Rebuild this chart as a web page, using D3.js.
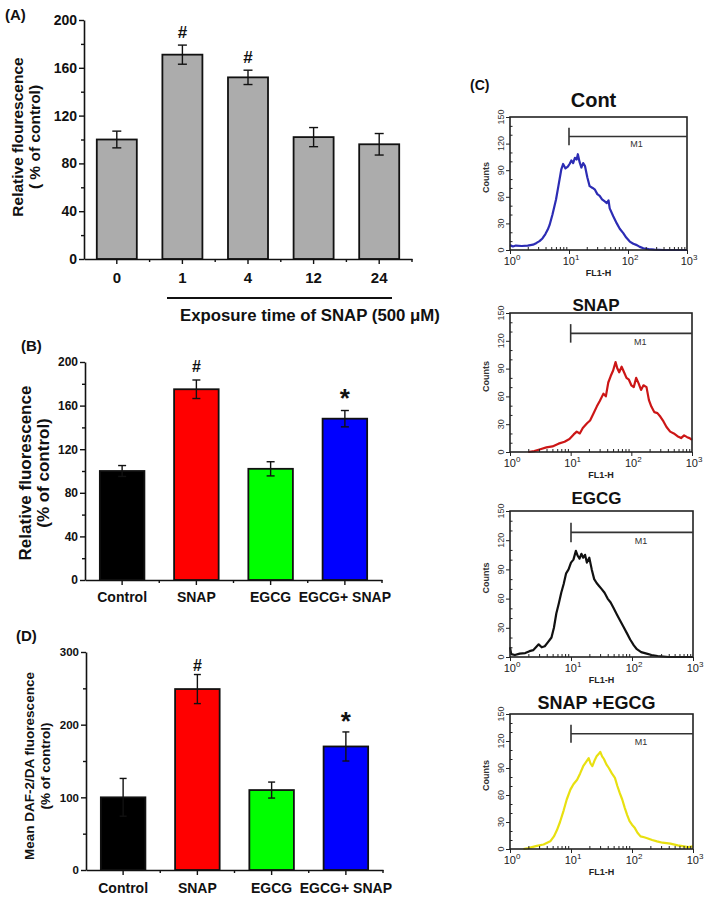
<!DOCTYPE html>
<html><head><meta charset="utf-8">
<script src="https://cdn.jsdelivr.net/npm/d3@7"></script>
<style>
body{margin:0;background:#fff}
svg{display:block}
text{font-family:Arial,"Liberation Sans",sans-serif;}
</style>
</head><body>
<svg id="fig" width="704" height="898"></svg>
<script>
// ---------- DATA ----------
const panelACategories = ["0", "1", "4", "12", "24"];
const panelAValues = [100, 171, 152, 102, 96];
const panelAErrors = [7, 8, 6, 8, 9];
const panelAMarks = ["", "#", "#", "", ""];
const panelAYTicks = [0, 40, 80, 120, 160, 200];
const panelAYMinor = [20, 60, 100, 140, 180];

const panelBCategories = ["Control", "SNAP", "EGCG", "EGCG+ SNAP"];
const panelBValues = [100, 175, 102, 148];
const panelBErrors = [5, 8.5, 6.5, 7.5];
const panelBMarks = ["", "#", "", "*"];
const panelBYTicks = [0, 40, 80, 120, 160, 200];
const panelBYMinor = [20, 60, 100, 140, 180];

const panelDCategories = ["Control", "SNAP", "EGCG", "EGCG+ SNAP"];
const panelDValues = [100, 249, 110, 170];
const panelDErrors = [26, 20, 11, 20];
const panelDMarks = ["", "#", "", "*"];
const panelDYTicks = [0, 100, 200, 300];
const panelDYMinor = [50, 150, 250];

const histTitles = ["Cont", "SNAP", "EGCG", "SNAP +EGCG"];
const histYTicks = [0, 30, 60, 90, 120, 150];
const histXTicks = [1, 10, 100, 1000];
const histXExponents = ["0", "1", "2", "3"];
const gateStart = 10, gateLevel = 128;
// [log10(FL1-H), counts]
const contCurve = [[0,5.5],[0.05,4],[0.1,5],[0.2,4.5],[0.3,5],[0.39,6],[0.45,8],[0.5,10],[0.55,13],[0.6,18],[0.64,23],[0.67,28],[0.72,40],[0.78,57],[0.82,72],[0.87,91],[0.9,97],[0.94,92],[0.98,94],[1.01,97],[1.04,101],[1.07,98],[1.1,104],[1.13,102],[1.15,108],[1.18,99],[1.21,93],[1.24,98],[1.27,95],[1.31,82],[1.35,72],[1.4,70],[1.44,68],[1.48,63],[1.52,61],[1.56,57],[1.6,55],[1.64,53],[1.67,56],[1.69,47],[1.75,38],[1.81,30],[1.86,24],[1.92,19],[1.97,14],[2.03,9.5],[2.09,7],[2.15,5.5],[2.2,3.5],[2.26,2],[2.35,1],[2.45,0.5],[2.6,0],[3,0]];
const snapCurve = [[0.3,0],[0.4,1],[0.5,3],[0.6,5],[0.7,6],[0.8,9],[0.9,11],[0.98,14],[1.05,19],[1.1,22],[1.15,20],[1.2,26],[1.27,31],[1.32,34],[1.38,42],[1.43,49],[1.48,55],[1.54,63],[1.58,60],[1.62,75],[1.66,82],[1.7,88],[1.74,97],[1.77,90],[1.8,86],[1.84,92],[1.88,86],[1.92,80],[1.96,78],[2.0,72],[2.04,70],[2.08,80],[2.12,74],[2.16,67],[2.2,72],[2.25,70],[2.29,56],[2.33,49],[2.38,43],[2.43,42],[2.48,38],[2.53,33],[2.58,27],[2.64,22],[2.7,20],[2.76,17],[2.82,15],[2.87,18],[2.92,16],[2.96,15],[3,13]];
const egcgCurve = [[0,10],[0.02,3],[0.08,2],[0.16,3.5],[0.25,4],[0.32,6],[0.38,7],[0.44,11],[0.47,13],[0.52,10],[0.57,11],[0.62,15],[0.68,20],[0.72,30],[0.76,45],[0.8,55],[0.84,66],[0.88,75],[0.92,86],[0.96,90],[1.0,97],[1.04,100],[1.08,109],[1.11,104],[1.14,101],[1.17,106],[1.2,102],[1.23,105],[1.26,97],[1.3,102],[1.34,90],[1.38,80],[1.42,76],[1.46,73],[1.5,70],[1.55,66],[1.6,60],[1.65,56],[1.7,50],[1.75,44],[1.8,38],[1.86,31],[1.92,24],[1.97,18],[2.03,12],[2.08,8],[2.15,5],[2.24,3.5],[2.32,2],[2.42,1],[2.6,0],[3,0]];
const snapEgcgCurve = [[0.22,0],[0.3,1],[0.44,3.5],[0.55,5],[0.66,8.5],[0.72,14],[0.77,21],[0.82,30],[0.88,43],[0.93,55],[0.99,66],[1.04,72],[1.1,77],[1.15,84],[1.2,92],[1.24,96],[1.29,101],[1.32,95],[1.35,92],[1.39,99],[1.42,103],[1.46,106],[1.48,108],[1.51,103],[1.54,100],[1.58,94],[1.62,90],[1.67,84],[1.72,79],[1.76,70],[1.8,62],[1.84,55],[1.88,46],[1.92,38],[1.96,31],[2.0,27],[2.04,24],[2.09,18],[2.14,14],[2.2,13],[2.25,12],[2.33,10],[2.41,8.5],[2.5,7],[2.63,6],[2.75,4],[2.85,3],[2.92,2],[3,3]];

// ---------- DRAWING ----------
const svg = d3.select("#fig");
svg.append("rect").attr("width",704).attr("height",898).attr("fill","#fff");

function rotLabel(g, cx, cy, txt, size) {
  g.append("text").attr("transform",`translate(${cx},${cy}) rotate(-90)`)
    .attr("text-anchor","middle").attr("dominant-baseline","central")
    .attr("font-weight","bold").attr("font-size",size).attr("fill","#111").text(txt);
}

function barPanel(o) {
  const g = svg.append("g");
  const x = d3.scaleBand().domain(o.cats).range([o.x0, o.x1]).paddingInner(o.pad).paddingOuter(o.pad/2);
  const y = d3.scaleLinear().domain([0, o.max]).range([o.y0, o.yTop]);
  const data = o.cats.map((c,i)=>({c, v:o.vals[i], e:o.errs[i], m:o.marks[i], col:o.colors[i]}));
  g.selectAll("rect.bar").data(data).join("rect").attr("class","bar")
    .attr("x", d=>x(d.c)).attr("width", x.bandwidth())
    .attr("y", d=>y(d.v)).attr("height", d=>y(0)-y(d.v))
    .attr("fill", d=>d.col).attr("stroke","#111").attr("stroke-width",1.8);
  const cap = o.cap;
  data.forEach(d=>{
    const cx = x(d.c)+x.bandwidth()/2;
    const eg = g.append("g").attr("stroke","#111").attr("stroke-width",1.4);
    eg.append("line").attr("x1",cx).attr("x2",cx).attr("y1",y(d.v-d.e)).attr("y2",y(d.v+d.e));
    eg.append("line").attr("x1",cx-cap/2).attr("x2",cx+cap/2).attr("y1",y(d.v+d.e)).attr("y2",y(d.v+d.e));
    eg.append("line").attr("x1",cx-cap/2).attr("x2",cx+cap/2).attr("y1",y(d.v-d.e)).attr("y2",y(d.v-d.e));
    if (d.m) {
      const star = d.m === "*";
      g.append("text").attr("x",cx).attr("y", y(d.v+d.e) - (star?o.starGap:o.hashGap))
        .attr("text-anchor","middle").attr("font-weight","bold")
        .attr("font-size", star?o.starSize:o.hashSize).attr("fill","#111").text(d.m);
    }
  });
  const ya = g.append("g").attr("transform",`translate(${o.x0},0)`)
    .call(d3.axisLeft(y).tickValues(o.yTicks).tickSize(5).tickSizeOuter(0).tickPadding(2));
  g.append("g").attr("transform",`translate(${o.x0},0)`)
    .call(d3.axisLeft(y).tickValues(o.yMinor).tickSize(3).tickFormat("")).select(".domain").remove();
  ya.selectAll("text").attr("font-size",o.yFont).attr("font-weight","bold").attr("fill","#111").attr("font-family","Arial, Liberation Sans, sans-serif");
  const xa = g.append("g").attr("transform",`translate(0,${o.y0})`)
    .call(d3.axisBottom(x).tickSize(5).tickSizeOuter(0).tickPadding(o.xPad));
  xa.selectAll("text").attr("font-size",o.xFont).attr("font-weight","bold").attr("fill","#111").attr("font-family","Arial, Liberation Sans, sans-serif");
  const bounds = o.cats.slice(1).map(c=>x(c)-x.step()*o.pad/2).concat([o.x1]);
  g.selectAll("line.minor").data(bounds).join("line").attr("class","minor")
    .attr("x1",d=>d).attr("x2",d=>d).attr("y1",o.y0).attr("y2",o.y0+3)
    .attr("stroke","#111").attr("stroke-width",1.4);
  g.selectAll(".domain").attr("stroke","#111").attr("stroke-width",1.6);
  g.selectAll(".tick line").attr("stroke","#111").attr("stroke-width",1.4);
  rotLabel(g, o.lab1x, o.labY, o.lab1, o.labSize);
  rotLabel(g, o.lab2x, o.labY, o.lab2, o.labSize);
  g.append("text").attr("x",o.letterX).attr("y",o.letterY).attr("font-weight","bold")
    .attr("font-size",15).attr("fill","#111").text(o.letter);
  return {x, y, g};
}

// Panel A
const gray = panelACategories.map(()=>"#acacac");
barPanel({cats:panelACategories, vals:panelAValues, errs:panelAErrors, marks:panelAMarks, colors:gray,
  x0:84, x1:412, y0:259, yTop:20, max:200, pad:0.39, cap:9,
  yTicks:panelAYTicks, yMinor:panelAYMinor, yFont:14, xFont:15, xPad:8,
  hashGap:7, starGap:3, hashSize:17, starSize:26,
  lab1:"Relative flourescence", lab2:"( % of control)", lab1x:17, lab2x:34, labY:137, labSize:15.5,
  letter:"(A)", letterX:5, letterY:20});

svg.append("line").attr("x1",167).attr("x2",392).attr("y1",298).attr("y2",298).attr("stroke","#111").attr("stroke-width",2);
svg.append("text").attr("x",180).attr("y",321).attr("font-weight","bold").attr("font-size",16.8).attr("fill","#111")
  .text("Exposure time of SNAP (500 \u03bcM)");

// Panel B
const barColors = ["#000000", "#ff0000", "#00ff00", "#0000ff"];
barPanel({cats:panelBCategories, vals:panelBValues, errs:panelBErrors, marks:panelBMarks, colors:barColors,
  x0:85, x1:382, y0:580, yTop:362, max:200, pad:0.40, cap:8,
  yTicks:panelBYTicks, yMinor:panelBYMinor, yFont:12, xFont:14, xPad:7,
  hashGap:8, starGap:4, hashSize:16, starSize:26,
  lab1:"Relative fluorescence", lab2:"(% of control)", lab1x:25, lab2x:43, labY:473, labSize:17,
  letter:"(B)", letterX:21, letterY:351});

// Panel D
barPanel({cats:panelDCategories, vals:panelDValues, errs:panelDErrors, marks:panelDMarks, colors:barColors,
  x0:86, x1:383, y0:870, yTop:652, max:300, pad:0.40, cap:7,
  yTicks:panelDYTicks, yMinor:panelDYMinor, yFont:11.5, xFont:14, xPad:8,
  hashGap:4, starGap:2, hashSize:16, starSize:26,
  lab1:"Mean DAF-2/DA fluorescence", lab2:"(% of control)", lab1x:29, lab2x:45, labY:766, labSize:13.5,
  letter:"(D)", letterX:16, letterY:641});

// Panel C
svg.append("text").attr("x",470).attr("y",90).attr("font-weight","bold").attr("font-size",14).attr("fill","#111").text("(C)");

function histPanel(o) {
  const g = svg.append("g");
  const x = d3.scaleLog().domain([1,1000]).range([o.l, o.r]);
  const y = d3.scaleLinear().domain([0,150]).range([o.b, o.t]);
  g.append("text").attr("x",(o.l+o.r)/2-5).attr("y",o.titleY).attr("text-anchor","middle")
    .attr("font-weight","bold").attr("font-size",o.titleSize).attr("fill","#111").text(o.title);
  const line = d3.line().x(d=>x(Math.pow(10,d[0]))).y(d=>y(d[1]));
  g.append("path").datum(o.curve).attr("d",line).attr("fill","none")
    .attr("stroke",o.color).attr("stroke-width",2.2).attr("stroke-linejoin","round");
  g.append("rect").attr("x",o.l).attr("y",o.t).attr("width",o.r-o.l).attr("height",o.b-o.t)
    .attr("fill","none").attr("stroke","#222").attr("stroke-width",1.6);
  const minorX = [];
  [1,10,100].forEach(dec=>{ for(let k=2;k<10;k++) minorX.push(dec*k); });
  g.append("g").attr("transform",`translate(0,${o.b})`)
    .call(d3.axisBottom(x).tickValues(histXTicks).tickSize(4).tickFormat("")).select(".domain").remove();
  g.append("g").attr("transform",`translate(0,${o.b})`)
    .call(d3.axisBottom(x).tickValues(minorX).tickSize(-3).tickFormat("")).select(".domain").remove();
  histXTicks.forEach((v,i)=>{
    const t = g.append("text").attr("x",x(v)+2).attr("y",o.b+15).attr("text-anchor","middle")
      .attr("font-size",11).attr("fill","#222");
    t.append("tspan").text("10");
    t.append("tspan").attr("dy",-5).attr("font-size",8).text(histXExponents[i]);
  });
  g.append("text").attr("x",(o.l+o.r)/2).attr("y",o.b+26).attr("text-anchor","middle")
    .attr("font-size",9).attr("font-weight","bold").attr("fill","#222").text("FL1-H");
  g.append("g").attr("transform",`translate(${o.l},0)`)
    .call(d3.axisLeft(y).tickValues(histYTicks).tickSize(4).tickFormat("")).select(".domain").remove();
  g.append("g").attr("transform",`translate(${o.l},0)`)
    .call(d3.axisLeft(y).tickValues(d3.range(10,150,10).filter(v=>v%30)).tickSize(-2.5).tickFormat("")).select(".domain").remove();
  histYTicks.forEach(v=>{
    g.append("text").attr("transform",`translate(${o.l-9},${y(v)}) rotate(-90)`)
      .attr("text-anchor","middle").attr("dominant-baseline","central")
      .attr("font-size",9).attr("fill","#333").text(v);
  });
  g.append("text").attr("transform",`translate(${o.l-24},${(o.t+o.b)/2-6}) rotate(-90)`)
    .attr("text-anchor","middle").attr("dominant-baseline","central")
    .attr("font-size",9).attr("font-weight","bold").attr("fill","#333").text("Counts");
  g.selectAll(".tick line").attr("stroke","#222").attr("stroke-width",1);
  const gy = y(gateLevel), gx = x(gateStart);
  g.append("line").attr("x1",gx).attr("x2",o.r).attr("y1",gy).attr("y2",gy).attr("stroke","#333").attr("stroke-width",1.6);
  g.append("line").attr("x1",gx).attr("x2",gx).attr("y1",y(gateLevel+10)).attr("y2",y(gateLevel-10)).attr("stroke","#333").attr("stroke-width",1.6);
  g.append("text").attr("x",x(140)).attr("y",y(gateLevel-12)).attr("text-anchor","middle")
    .attr("font-size",9).attr("fill","#333").text("M1");
}

histPanel({title:histTitles[0], titleY:107, titleSize:20, curve:contCurve, color:"#2c2cb4", l:510, r:687, t:117, b:250});
histPanel({title:histTitles[1], titleY:311, titleSize:17, curve:snapCurve, color:"#cc1616", l:510, r:692, t:313, b:452});
histPanel({title:histTitles[2], titleY:504, titleSize:17, curve:egcgCurve, color:"#111111", l:510, r:693, t:511, b:657});
histPanel({title:histTitles[3], titleY:709, titleSize:18, curve:snapEgcgCurve, color:"#e8e010", l:510, r:693, t:714, b:849});
</script>
</body></html>
